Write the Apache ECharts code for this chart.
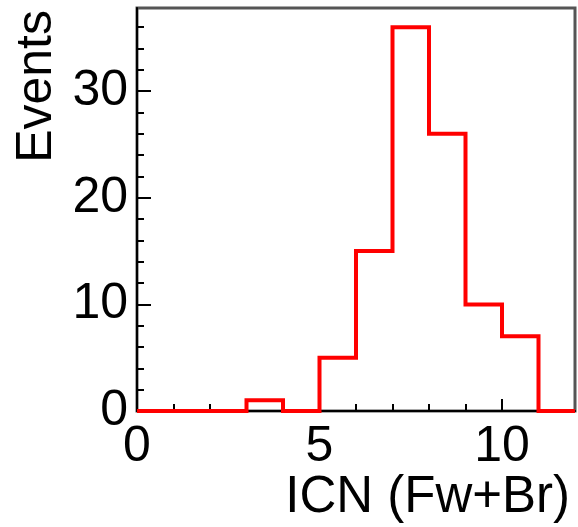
<!DOCTYPE html>
<html>
<head>
<meta charset="utf-8">
<script src="https://cdn.jsdelivr.net/npm/echarts@6/dist/echarts.min.js"></script>
<style>
html,body{margin:0;padding:0;background:#fff;}
#chart{width:578px;height:527px;}
</style>
</head>
<body>
<div id="chart"></div>
<script>
// Histogram data
const binEdges = [0, 1, 2, 3, 4, 5, 6, 7, 8, 9, 10, 11, 12];
const counts = [0, 0, 0, 1, 0, 5, 15, 36, 26, 10, 7, 0];
const xMajorTicks = [0, 5, 10];
const xMinorTicks = [1, 2, 3, 4, 6, 7, 8, 9, 11];
const yMajorTicks = [0, 10, 20, 30];
const yMinorTicks = [2, 4, 6, 8, 12, 14, 16, 18, 22, 24, 26, 28, 32, 34, 36];
const xTitle = 'ICN (Fw+Br)';
const yTitle = 'Events';
const yMax = 37.8;

// step points: left edge of each bin with its count, plus closing edge
const stepData = counts.map((c, i) => [binEdges[i], c]);
stepData.push([binEdges[binEdges.length - 1], counts[counts.length - 1]]);

const FONT = 'Liberation Sans, Arial, Helvetica, sans-serif';
const chart = echarts.init(document.getElementById('chart'), null, {renderer: 'canvas'});
chart.setOption({
  animation: false,
  backgroundColor: '#fff',
  grid: {left: 137, right: 3, top: 8, bottom: 116, show: true, borderColor: '#555', borderWidth: 3, backgroundColor: 'transparent'},
  xAxis: [{
    type: 'value', min: 0, max: 12,
    position: 'bottom',
    axisLine: {show: true, onZero: false, lineStyle: {color: '#000', width: 2}},
    axisTick: {show: true, inside: true, length: 12, customValues: xMajorTicks, lineStyle: {color: '#000', width: 2}},
    axisLabel: {show: true, customValues: xMajorTicks, margin: 11, fontSize: 50, color: '#000', fontFamily: FONT},
    splitLine: {show: false},
    name: xTitle, nameLocation: 'end', nameGap: -5,
    nameTextStyle: {fontSize: 51, color: '#000', fontFamily: FONT, align: 'right', verticalAlign: 'top', padding: [61, 0, 0, 0]}
  }, {
    type: 'value', min: 0, max: 12, position: 'bottom',
    axisLine: {show: false},
    axisTick: {show: true, inside: true, length: 7, customValues: xMinorTicks, lineStyle: {color: '#000', width: 2}},
    axisLabel: {show: false},
    splitLine: {show: false}
  }],
  yAxis: [{
    type: 'value', min: 0, max: yMax,
    position: 'left',
    axisLine: {show: true, onZero: false, lineStyle: {color: '#000', width: 2}},
    axisTick: {show: true, inside: true, length: 14, customValues: yMajorTicks, lineStyle: {color: '#000', width: 2}},
    axisLabel: {show: true, customValues: yMajorTicks, margin: 9, fontSize: 50, color: '#000', fontFamily: FONT},
    splitLine: {show: false},
    name: yTitle, nameLocation: 'end', nameGap: -2, nameRotate: 90,
    nameTextStyle: {fontSize: 50, color: '#000', fontFamily: FONT, align: 'right', verticalAlign: 'bottom', padding: [0, 0, 75, 0]}
  }, {
    type: 'value', min: 0, max: yMax, position: 'left',
    axisLine: {show: false},
    axisTick: {show: true, inside: true, length: 7, customValues: yMinorTicks, lineStyle: {color: '#000', width: 2}},
    axisLabel: {show: false},
    splitLine: {show: false}
  }],
  series: [{
    type: 'line',
    xAxisIndex: 0, yAxisIndex: 0,
    step: 'end',
    data: stepData,
    symbol: 'none',
    clip: false,
    z: 10,
    lineStyle: {color: '#ff0000', width: 4, join: 'miter'}
  }]
});
</script>
</body>
</html>
